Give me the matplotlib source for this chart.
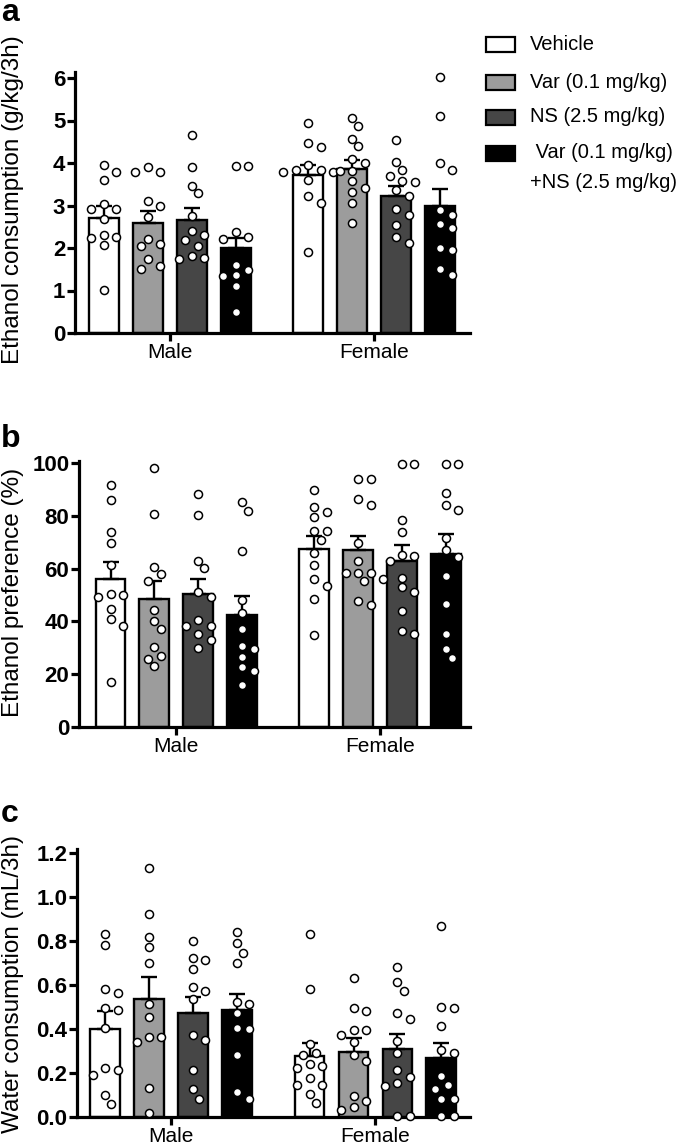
import numpy as np
import matplotlib
matplotlib.use("Agg")
import matplotlib.pyplot as plt
from matplotlib.patches import Rectangle

plt.rcParams['font.family'] = ['Liberation Sans', 'DejaVu Sans']

# groups / legend
groups = ['Vehicle', 'Var (0.1 mg/kg)', 'NS (2.5 mg/kg)', ' Var (0.1 mg/kg)\n+NS (2.5 mg/kg)']
sexes = ['Male', 'Female']
bar_colors = ['#ffffff', '#9c9c9c', '#464646', '#000000']

# a: ethanol consumption (g/kg/3h)
etoh_mean = [[2.71, 2.59, 2.66, 2.00], [3.71, 3.86, 3.23, 2.98]]
etoh_top = [[2.98, 2.86, 2.94, 2.24], [3.95, 4.08, 3.45, 3.39]]
etoh_male = [
    [3.95, 3.79, 3.59, 3.04, 2.92, 2.92, 2.69, 2.31, 2.24, 2.27, 2.08, 1.02],
    [3.91, 3.78, 3.78, 3.10, 2.98, 2.73, 2.10, 2.04, 2.21, 1.73, 1.51, 1.58],
    [4.67, 3.91, 3.47, 3.29, 2.75, 2.31, 2.39, 2.20, 2.04, 1.82, 1.74, 1.76],
    [3.92, 3.92, 2.37, 2.27, 2.21, 1.49, 1.61, 1.37, 1.33, 1.10, 0.49],
]
etoh_female = [
    [4.94, 4.38, 4.47, 3.95, 3.80, 3.80, 3.84, 3.84, 3.61, 3.22, 3.06, 1.91],
    [5.06, 4.88, 4.57, 4.39, 4.10, 4.00, 3.82, 3.82, 3.57, 3.41, 3.31, 3.07, 2.60],
    [4.55, 4.02, 3.83, 3.70, 3.55, 3.57, 3.36, 3.22, 2.92, 2.78, 2.53, 2.27, 2.12],
    [6.02, 5.10, 4.00, 3.84, 2.90, 2.78, 2.47, 2.57, 2.00, 1.95, 1.37, 1.51],
]

# b: ethanol preference (%)
pref_mean = [[55.9, 48.4, 50.5, 42.5], [67.3, 67.1, 63.0, 65.7]]
pref_top = [[62.4, 55.3, 56.1, 49.5], [72.2, 72.2, 69.1, 73.0]]
pref_male = [
    [91.6, 85.9, 73.8, 69.6, 61.3, 50.0, 49.4, 50.3, 44.6, 40.8, 38.4, 17.0],
    [98.0, 80.8, 60.8, 57.8, 55.3, 44.3, 40.1, 37.1, 30.4, 26.8, 25.8, 23.0],
    [88.4, 80.3, 62.9, 60.1, 51.1, 49.4, 40.5, 38.4, 38.4, 35.2, 32.9, 30.0],
    [85.1, 81.9, 66.7, 48.1, 43.3, 37.0, 30.6, 29.4, 26.6, 22.8, 21.3, 15.9],
]
pref_female = [
    [90.0, 83.5, 81.6, 79.5, 74.1, 74.3, 70.9, 65.8, 61.3, 56.2, 53.5, 48.5, 34.8],
    [94.1, 94.1, 86.3, 84.1, 69.6, 62.9, 58.5, 58.5, 58.5, 56.2, 55.2, 47.8, 46.3],
    [99.7, 99.7, 78.5, 73.8, 65.2, 64.8, 62.9, 56.6, 51.3, 52.9, 43.9, 35.1, 36.3],
    [99.7, 99.7, 88.6, 82.3, 84.2, 71.8, 67.0, 64.6, 57.2, 46.6, 35.2, 29.4, 26.2],
]

# c: water consumption (mL/3h)
water_mean = [[0.40, 0.536, 0.474, 0.486], [0.275, 0.295, 0.310, 0.266]]
water_top = [[0.483, 0.636, 0.545, 0.557], [0.337, 0.357, 0.377, 0.337]]
water_male = [
    [0.832, 0.782, 0.562, 0.582, 0.494, 0.486, 0.403, 0.213, 0.223, 0.193, 0.099, 0.058],
    [1.130, 0.922, 0.820, 0.772, 0.702, 0.513, 0.453, 0.362, 0.342, 0.362, 0.134, 0.018],
    [0.800, 0.714, 0.722, 0.671, 0.574, 0.592, 0.535, 0.352, 0.372, 0.213, 0.125, 0.084],
    [0.843, 0.790, 0.747, 0.702, 0.512, 0.524, 0.471, 0.398, 0.403, 0.281, 0.114, 0.084],
]
water_female = [
    [0.831, 0.582, 0.333, 0.292, 0.281, 0.243, 0.232, 0.223, 0.175, 0.144, 0.147, 0.106, 0.064],
    [0.632, 0.483, 0.494, 0.395, 0.395, 0.372, 0.342, 0.254, 0.281, 0.094, 0.073, 0.033, 0.046],
    [0.681, 0.612, 0.573, 0.444, 0.471, 0.345, 0.293, 0.213, 0.155, 0.182, 0.140, 0.003, 0.003],
    [0.870, 0.501, 0.494, 0.413, 0.304, 0.292, 0.185, 0.144, 0.125, 0.084, 0.084, 0.003, 0.003],
]

W, H = 685, 1147
fig = plt.figure(figsize=(W / 100, H / 100), dpi=100)

female_shift = 4.65
bar_w = 0.68


def swarm(ax, vals, xc, diam=9.5, step=6.2):
    # simple beeswarm, worked out in pixels
    pos = ax.get_position()
    x0, x1 = ax.get_xlim()
    y0, y1 = ax.get_ylim()
    sx = pos.width * W / (x1 - x0)
    sy = pos.height * H / (y1 - y0)
    vals = np.asarray(vals, dtype=float)
    order = np.argsort(-vals)
    placed = []
    xs = np.zeros(len(vals))
    for i in order:
        yp = vals[i] * sy
        k = 0
        while True:
            cand = [0] if k == 0 else [k, -k]
            ok = None
            for c in cand:
                xp = c * step
                if all((xp - a) ** 2 + (yp - b) ** 2 >= diam ** 2 for a, b in placed):
                    ok = xp
                    break
            if ok is not None:
                placed.append((ok, yp))
                xs[i] = xc + ok / sx
                break
            k += 1
    return xs


def panel(rect, ylim, yticks, ylabels, means, tops, male, female, xlim):
    l, r, top, bot = rect
    ax = fig.add_axes([l / W, 1 - bot / H, (r - l) / W, (bot - top) / H])
    ax.set_xlim(*xlim)
    ax.set_ylim(*ylim)
    for s, pts_all in enumerate([male, female]):
        xc = np.arange(4) + s * female_shift
        ax.bar(xc, means[s], width=bar_w, color=bar_colors, edgecolor='black',
               linewidth=1.7, zorder=1)
        sem = np.array(tops[s]) - np.array(means[s])
        ax.errorbar(xc, means[s], yerr=[np.zeros(4), sem], fmt='none', ecolor='black',
                    elinewidth=1.7, capsize=5.5, capthick=1.7, zorder=2)
        for g in range(4):
            xs = swarm(ax, pts_all[g], xc[g])
            ax.plot(xs, pts_all[g], 'o', ms=5.8, mfc='white', mec='black', mew=1.1,
                    zorder=3, clip_on=False)
    for side in ['top', 'right']:
        ax.spines[side].set_visible(False)
    for side in ['left', 'bottom']:
        ax.spines[side].set_linewidth(2.3)
    ax.set_yticks(yticks)
    ax.set_yticklabels(ylabels, fontweight='bold', fontsize=16)
    ax.set_xticks([1.5, 1.5 + female_shift])
    ax.set_xticklabels(sexes, fontsize=15)
    ax.tick_params(axis='y', length=6, width=2.3, pad=1)
    ax.tick_params(axis='x', length=6, width=2.3, pad=1.5)
    return ax


ax_a = panel((75, 470, 333 - 42.5 * 6.15, 333), (0, 6.15), range(7),
             [str(i) for i in range(7)], etoh_mean, etoh_top, etoh_male, etoh_female,
             (-0.65, 8.33))
ax_b = panel((79, 470, 461, 727), (0, 100.8), range(0, 101, 20),
             [str(i) for i in range(0, 101, 20)], pref_mean, pref_top, pref_male,
             pref_female, (-0.72, 8.2))
ax_c = panel((77, 470, 849, 1117), (0, 1.218), np.arange(0, 1.21, 0.2),
             ['%.1f' % v for v in np.arange(0, 1.21, 0.2)], water_mean, water_top,
             water_male, water_female, (-0.64, 8.3))

# y labels
ylab = [('Ethanol consumption (g/kg/3h)', 200), ('Ethanol preference (%)', 592),
        ('Water consumption (mL/3h)', 984)]
for txt, yc in ylab:
    fig.text(13 / W, 1 - yc / H, txt, rotation=90, ha='center', va='center', fontsize=17.5)

# panel letters
for lt, yb in [('a', 21), ('b', 447), ('c', 822)]:
    fig.text(1 / W, 1 - yb / H, lt, fontsize=23, fontweight='bold', va='baseline', ha='left')

# legend
leg_y = [44, 82, 117, 153]
for g, yc in enumerate(leg_y):
    fig.add_artist(Rectangle((486 / W, 1 - (yc + 7.5) / H), 29 / W, 15 / H,
                             facecolor=bar_colors[g], edgecolor='black', linewidth=1.6,
                             transform=fig.transFigure))
    for j, line in enumerate(groups[g].split('\n')):
        fig.text(530 / W, 1 - (yc + 30 * j) / H, line, fontsize=14.5, va='center', ha='left')

fig.savefig('out.png', dpi=100)
